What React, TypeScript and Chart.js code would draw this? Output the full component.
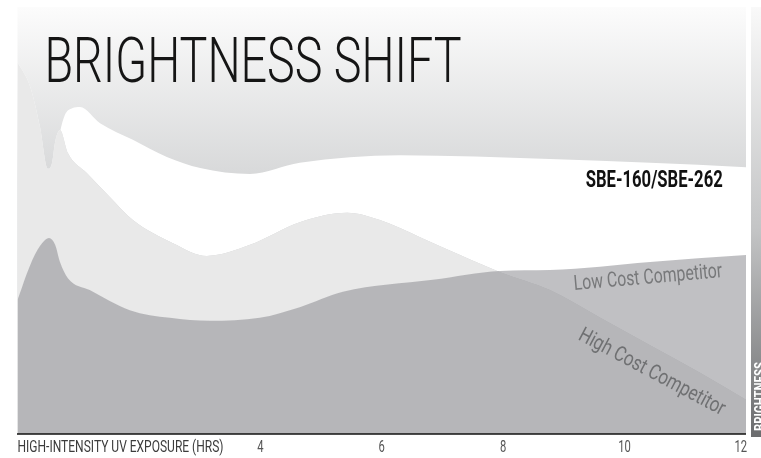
import React, { useEffect, useRef } from 'react';
import { Chart, registerables } from 'chart.js';

Chart.register(...registerables);

// ---- text ----
const chartTitle = 'BRIGHTNESS SHIFT';
const xAxisTitle = 'HIGH-INTENSITY UV EXPOSURE (HRS)';
const sideLabel = 'BRIGHTNESS';
const seriesNames = ['SBE-160/SBE-262', 'High Cost Competitor', 'Low Cost Competitor'];
const tickHours = [4, 6, 8, 10, 12];

// ---- data (hours vs relative brightness 0-100) ----
const sbeHours = [0, 0.5, 0.62, 0.7, 0.78, 0.9, 1.03, 1.36, 1.9, 2.46, 3.01, 3.83, 4.65, 6.3, 8.77, 10.42, 12];
const sbeBrightness = [40.7, 54.8, 64.2, 70.7, 74.7, 76.3, 76.6, 72.8, 68.9, 64.9, 62.3, 60.9, 63.5, 65.3, 64.4, 63.5, 62.5];

const highHours = [0, 0.21, 0.37, 0.5, 0.57, 0.62, 0.7, 0.83, 1.14, 1.52, 1.9, 2.56, 3.12, 3.83, 4.65, 5.43, 5.97, 6.63, 7.29, 7.95, 8.77, 9.6, 10.42, 11.25, 12];
const highBrightness = [87.1, 81.3, 71.9, 62.1, 63.5, 68.4, 71.2, 65.8, 61.1, 55.5, 50.1, 44.7, 41.7, 44.3, 49.6, 51.8, 50.1, 46.1, 41.9, 37.9, 33.7, 27.2, 20.8, 14.3, 8.0];

const lowHours = [0, 0.21, 0.37, 0.52, 0.62, 0.7, 0.83, 1.19, 1.85, 2.51, 3.17, 3.99, 4.65, 5.36, 6.84, 7.95, 8.77, 10.42, 12];
const lowBrightness = [31.4, 39.6, 44.0, 45.9, 44.3, 40.3, 36.5, 33.7, 29.0, 27.2, 26.5, 27.2, 29.7, 33.3, 36.1, 38.2, 38.4, 40.3, 41.9];

const FAMILY = 'Roboto, "Liberation Sans", sans-serif';

type TextOpts = {
  size: number;
  weight?: number;
  color: string;
  width?: number;
  scaleX?: number;
  align?: 'left' | 'center' | 'right';
  angle?: number;
};

function drawText(ctx: CanvasRenderingContext2D, text: string, x: number, y: number, o: TextOpts) {
  ctx.save();
  ctx.font = `${o.weight ?? 400} ${o.size}px ${FAMILY}`;
  const w = ctx.measureText(text).width;
  const sx = o.width ? o.width / w : o.scaleX ?? 1;
  ctx.translate(x, y);
  if (o.angle) ctx.rotate((o.angle * Math.PI) / 180);
  ctx.scale(sx, 1);
  ctx.fillStyle = o.color;
  ctx.textBaseline = 'alphabetic';
  ctx.textAlign = 'left';
  let dx = 0;
  if (o.align === 'center') dx = -w / 2;
  else if (o.align === 'right') dx = -w;
  ctx.fillText(text, dx, 0);
  ctx.restore();
}

const decorPlugin = {
  id: 'decor',
  beforeDraw(chart: any) {
    const { ctx, chartArea } = chart;
    const { left, right, top, bottom } = chartArea;
    ctx.save();
    const g = ctx.createLinearGradient(0, top, 0, top + 175);
    g.addColorStop(0, '#fcfcfc');
    g.addColorStop(1, '#d6d7d8');
    ctx.fillStyle = g;
    ctx.fillRect(left, top, right - left, bottom - top);

    // brightness bar
    const bx = right + 5;
    const bg = ctx.createLinearGradient(0, top, 0, bottom + 3);
    bg.addColorStop(0, '#f9f9f9');
    bg.addColorStop(0.52, '#c3c4c5');
    bg.addColorStop(1, '#6b6c6e');
    ctx.fillStyle = bg;
    ctx.fillRect(bx, top, 20, bottom + 3 - top);
    ctx.restore();
  },
  afterDraw(chart: any) {
    const { ctx, chartArea, scales } = chart;
    const { left, right, top, bottom } = chartArea;
    const xs = scales.x;

    // axis line
    ctx.save();
    ctx.strokeStyle = '#111';
    ctx.lineWidth = 1.6;
    ctx.beginPath();
    ctx.moveTo(left - 0.5, bottom);
    ctx.lineTo(right, bottom);
    ctx.stroke();
    ctx.restore();

    // title
    drawText(ctx, chartTitle, left + 27, top + 75, { size: 63, weight: 300, color: '#151515', width: 417 });

    // x axis title + ticks
    drawText(ctx, xAxisTitle, left, bottom + 18, { size: 16.5, color: '#3c3c3c', width: 206 });
    tickHours.forEach((h, i) => {
      const px = xs.getPixelForValue(h);
      const last = i === tickHours.length - 1;
      drawText(ctx, String(h), last ? px + 1 : px, bottom + 18, {
        size: 16.5,
        color: '#555',
        scaleX: 0.68,
        align: last ? 'right' : 'center',
      });
    });

    // series labels
    drawText(ctx, seriesNames[0], xs.getPixelForValue(9.36), top + 180, { size: 24, weight: 700, color: '#111', width: 137 });
    drawText(ctx, seriesNames[2], xs.getPixelForValue(9.17), top + 283, { size: 21, color: '#77787a', width: 149, angle: -5 });
    drawText(ctx, seriesNames[1], xs.getPixelForValue(9.22), top + 332, { size: 21, color: '#6f7072', width: 163, angle: 28 });

    // side label
    ctx.save();
    ctx.translate(right + 19, bottom - 3);
    ctx.rotate(-Math.PI / 2);
    ctx.font = `700 15.5px ${FAMILY}`;
    const w = ctx.measureText(sideLabel).width;
    ctx.scale(69 / w, 1);
    ctx.fillStyle = '#ffffff';
    ctx.fillText(sideLabel, 0, 0);
    ctx.restore();
  },
};

const toPoints = (xs: number[], ys: number[]) => xs.map((x, i) => ({ x, y: ys[i] }));

export default function App() {
  const ref = useRef<HTMLCanvasElement | null>(null);

  useEffect(() => {
    if (!ref.current) return;
    const chart = new Chart(ref.current, {
      type: 'line',
      data: {
        datasets: [
          {
            label: seriesNames[0],
            data: toPoints(sbeHours, sbeBrightness),
            borderWidth: 0,
            pointRadius: 0,
            cubicInterpolationMode: 'monotone',
            fill: { target: 1, above: '#ffffff', below: 'rgba(0,0,0,0)' },
            order: 2,
          },
          {
            label: seriesNames[1],
            data: toPoints(highHours, highBrightness),
            borderWidth: 0,
            pointRadius: 0,
            cubicInterpolationMode: 'monotone',
            backgroundColor: '#e9e9e9',
            fill: 'start',
            order: 3,
          },
          {
            label: seriesNames[2],
            data: toPoints(lowHours, lowBrightness),
            borderWidth: 0,
            pointRadius: 0,
            cubicInterpolationMode: 'monotone',
            backgroundColor: 'rgba(143,144,148,0.565)',
            fill: 'start',
            order: 1,
          },
        ],
      } as any,
      options: {
        animation: false,
        responsive: true,
        maintainAspectRatio: false,
        layout: { padding: { left: 17.5, right: 15, top: 7, bottom: 24 } },
        plugins: { legend: { display: false }, tooltip: { enabled: false } },
        scales: {
          x: { type: 'linear', min: 0, max: 12, display: false },
          y: { type: 'linear', min: 0, max: 100, display: false },
        },
      },
      plugins: [decorPlugin],
    });
    return () => chart.destroy();
  }, []);

  return (
    <div style={{ position: 'fixed', left: 0, top: 0, width: 761, height: 458, background: '#fff' }}>
      <canvas ref={ref} />
    </div>
  );
}
